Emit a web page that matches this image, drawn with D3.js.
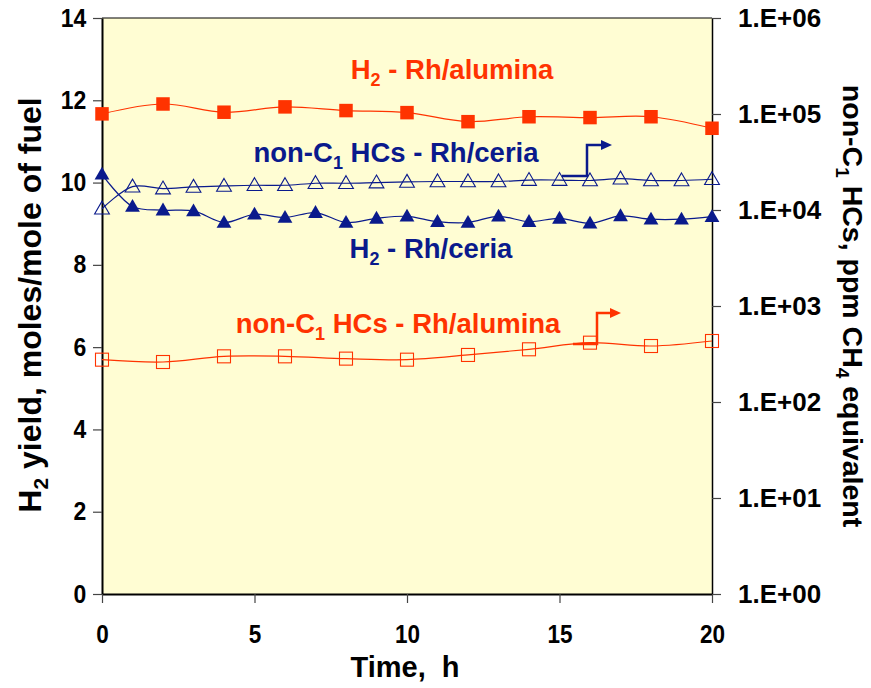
<!DOCTYPE html>
<html>
<head>
<meta charset="utf-8">
<script src="https://cdn.jsdelivr.net/npm/d3@7"></script>
<style>
html,body{margin:0;padding:0;background:#fff;}
svg text{font-family:"Liberation Sans",Arial,sans-serif;font-weight:bold;}
</style>
</head>
<body>
<svg id="chart" width="871" height="688"></svg>
<script>
// ---- data ----
const timeEven = [0,2,4,6,8,10,12,14,16,18,20];
const timeHourly = [0,1,2,3,4,5,6,7,8,9,10,11,12,13,14,15,16,17,18,19,20];
const h2RhAlumina = [11.67,11.91,11.71,11.84,11.75,11.70,11.48,11.60,11.58,11.60,11.32];
const h2RhCeria = [10.20,9.42,9.33,9.31,9.03,9.23,9.15,9.27,9.03,9.13,9.18,9.05,9.03,9.18,9.05,9.13,9.01,9.19,9.11,9.11,9.17];
const hcRhCeria = [10300,17500,16700,17400,17800,18100,18100,19000,19000,19300,19600,19800,19800,19800,20500,20500,20300,21200,20300,20300,20900];
const hcRhAlumina = [276,261,299,299,283,276,309,354,415,383,432];
const xTicks = [0,5,10,15,20];
const leftTicks = [0,2,4,6,8,10,12,14];
const rightTicks = [1,10,100,1000,10000,100000,1000000];
const rightTickLabels = ["1.E+00","1.E+01","1.E+02","1.E+03","1.E+04","1.E+05","1.E+06"];

const RED = "#FF3300", BLUE = "#0A1A8C";
const svg = d3.select("#chart");
const X0 = 102, X1 = 712, Y0 = 594, Y1 = 18;
const x = d3.scaleLinear().domain([0,20]).range([X0,X1]);
const yL = d3.scaleLinear().domain([0,14]).range([Y0,Y1]);
const yR = d3.scaleLog().domain([1,1e6]).range([Y0,Y1]);

// plot background
svg.append("rect").attr("x",X0).attr("y",Y1).attr("width",X1-X0).attr("height",Y0-Y1)
  .attr("fill","#FFFDD3");
svg.append("line").attr("x1",X0).attr("x2",X1).attr("y1",Y1).attr("y2",Y1)
  .attr("stroke","#000").attr("stroke-width",1);

// left axis
const gL = svg.append("g").attr("transform",`translate(${X0},0)`)
  .call(d3.axisLeft(yL).tickValues(leftTicks).tickSize(9).tickSizeOuter(0).tickPadding(16));
gL.select(".domain").attr("stroke","#000").attr("stroke-width",2);
gL.selectAll(".tick line").attr("stroke","#444").attr("stroke-width",1.2);
gL.selectAll(".tick text").attr("font-size","25px").attr("fill","#000")
  .attr("x",-17).attr("transform","scale(0.92,1)");

// right axis
const gR = svg.append("g").attr("transform",`translate(${X1},0)`)
  .call(d3.axisRight(yR).tickValues(rightTicks).tickSize(9).tickSizeOuter(0).tickPadding(17)
    .tickFormat((d,i)=>rightTickLabels[i]));
gR.select(".domain").attr("stroke","#000").attr("stroke-width",1.5);
gR.selectAll(".tick line").attr("stroke","#444").attr("stroke-width",1.2);
gR.selectAll(".tick text").attr("font-size","26px").attr("fill","#000");

// bottom axis
const gB = svg.append("g").attr("transform",`translate(0,${Y0})`)
  .call(d3.axisBottom(x).tickValues(xTicks).tickSize(9).tickSizeOuter(0).tickPadding(22));
gB.select(".domain").attr("stroke","#000").attr("stroke-width",2);
gB.selectAll(".tick line").attr("stroke","#444").attr("stroke-width",1.2);
gB.selectAll(".tick text").attr("font-size","25px").attr("fill","#000")
  .attr("transform","scale(0.9,1)");

// axis titles
svg.append("text").attr("x",405).attr("y",677).attr("text-anchor","middle")
  .attr("font-size","29px").attr("xml:space","preserve").text("Time,  h");
const lt = svg.append("text").attr("transform","translate(41,305) rotate(-90)")
  .attr("text-anchor","middle").attr("font-size","32px");
lt.append("tspan").text("H");
lt.append("tspan").attr("font-size","21px").attr("dy",7).text("2");
lt.append("tspan").attr("dy",-7).text(" yield, moles/mole of fuel");
const rt = svg.append("text").attr("transform","translate(843,306) rotate(90)")
  .attr("text-anchor","middle").attr("font-size","28.5px");
rt.append("tspan").text("non-C");
rt.append("tspan").attr("font-size","19px").attr("dy",7).text("1");
rt.append("tspan").attr("dy",-7).text(" HCs, ppm CH");
rt.append("tspan").attr("font-size","19px").attr("dy",7).text("4");
rt.append("tspan").attr("dy",-7).text(" equivalent");

// lines
const curve = d3.curveCatmullRom.alpha(0.5);
function drawLine(xs, ys, yScale, color){
  svg.append("path").datum(xs.map((t,i)=>[t,ys[i]]))
    .attr("fill","none").attr("stroke",color).attr("stroke-width",1.2)
    .attr("d", d3.line().x(d=>x(d[0])).y(d=>yScale(d[1])).curve(curve));
}
drawLine(timeEven, h2RhAlumina, yL, RED);
drawLine(timeHourly, h2RhCeria, yL, BLUE);
drawLine(timeHourly, hcRhCeria, yR, BLUE);
drawLine(timeEven, hcRhAlumina, yR, RED);

// markers
const sq = 13.5;
svg.append("g").selectAll("rect").data(timeEven.map((t,i)=>[t,h2RhAlumina[i]])).join("rect")
  .attr("x",d=>x(d[0])-sq/2).attr("y",d=>yL(d[1])-sq/2).attr("width",sq).attr("height",sq)
  .attr("fill",RED);
svg.append("g").selectAll("rect").data(timeEven.map((t,i)=>[t,hcRhAlumina[i]])).join("rect")
  .attr("x",d=>x(d[0])-6.5).attr("y",d=>yR(d[1])-6.5).attr("width",13).attr("height",13)
  .attr("fill","none").attr("stroke",RED).attr("stroke-width",1.1);
const tri = d3.symbol().type(d3.symbolTriangle).size(95);
svg.append("g").selectAll("path").data(timeHourly.map((t,i)=>[t,h2RhCeria[i]])).join("path")
  .attr("transform",d=>`translate(${x(d[0])},${yL(d[1])+1})`).attr("d",tri).attr("fill",BLUE);
svg.append("g").selectAll("path").data(timeHourly.map((t,i)=>[t,hcRhCeria[i]])).join("path")
  .attr("transform",d=>`translate(${x(d[0])},${yR(d[1])+1})`).attr("d",tri)
  .attr("fill","none").attr("stroke",BLUE).attr("stroke-width",1.1);

// annotations
function label(xc, yb, color, parts){
  const t = svg.append("text").attr("x",xc).attr("y",yb).attr("text-anchor","middle")
    .attr("font-size","27.5px").attr("fill",color);
  parts.forEach(p=>{
    const s = t.append("tspan").text(p[0]);
    if(p[1]==="sub") s.attr("font-size","18px").attr("dy",7);
    if(p[1]==="back") s.attr("dy",-7);
  });
}
label(452, 79, RED, [["H"],["2","sub"],[" - Rh/alumina","back"]]);
label(396, 162, BLUE, [["non-C"],["1","sub"],[" HCs - Rh/ceria","back"]]);
label(431, 258, BLUE, [["H"],["2","sub"],[" - Rh/ceria","back"]]);
label(398, 333, RED, [["non-C"],["1","sub"],[" HCs - Rh/alumina","back"]]);

function arrow(pts, color){
  const [a,b,c,d] = pts;
  svg.append("path").attr("d",`M${a[0]},${a[1]}H${b[0]}V${c[1]}H${d[0]-9}`)
    .attr("fill","none").attr("stroke",color).attr("stroke-width",2.5);
  svg.append("path").attr("d",`M${d[0]},${d[1]}L${d[0]-11},${d[1]-5}L${d[0]-11},${d[1]+5}Z`)
    .attr("fill",color);
}
arrow([[562,176],[587,176],[587,145],[612,145]], BLUE);
arrow([[573,344],[597,344],[597,313],[621,313]], RED);
</script>
</body>
</html>
